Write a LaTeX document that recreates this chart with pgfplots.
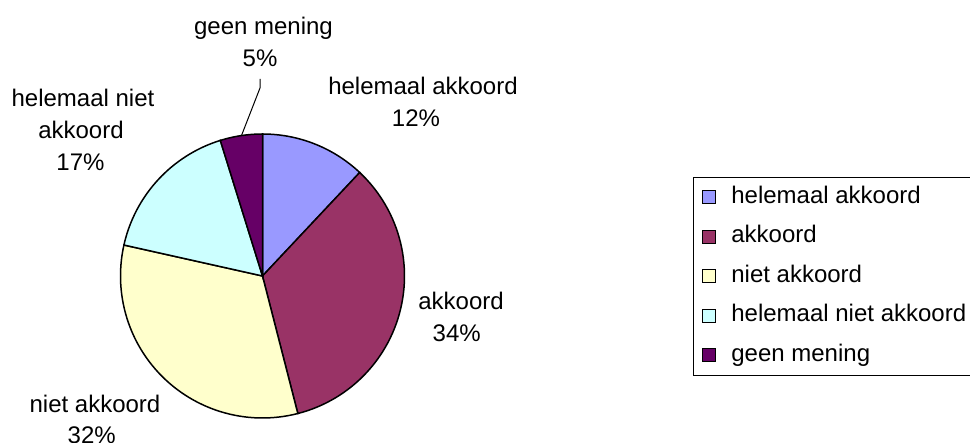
\documentclass[border=0pt]{standalone}
\usepackage{pgfplots}
\pgfplotsset{compat=1.18}
\usepackage{fontspec}
\setmainfont{Liberation Sans}
\definecolor{cA}{HTML}{9999FF}
\definecolor{cB}{HTML}{993366}
\definecolor{cC}{HTML}{FFFFCC}
\definecolor{cD}{HTML}{CCFFFF}
\definecolor{cE}{HTML}{660066}
% shares in percent
\def\pA{12.0}\def\pB{34.0}\def\pC{32.5}\def\pD{16.7}\def\pE{4.8}
\pgfmathsetmacro\aA{3.6*\pA}
\pgfmathsetmacro\aB{3.6*(\pA+\pB)}
\pgfmathsetmacro\aC{3.6*(\pA+\pB+\pC)}
\pgfmathsetmacro\aD{3.6*(\pA+\pB+\pC+\pD)}
\pgfmathsetmacro\aE{3.6*(\pA+\pB+\pC+\pD+\pE)}
\def\cx{262.5}\def\cy{-276}\def\rr{142}
\begin{document}
\begin{tikzpicture}
\useasboundingbox (0,0) rectangle (485pt,221.5pt);
\clip (0,0) rectangle (485pt,221.5pt);
\begin{axis}[at={(0,0)}, anchor=south west, scale only axis,
  width=485pt, height=221.5pt,
  xmin=0, xmax=970, ymin=-443, ymax=0,
  hide axis, clip=false,
  legend image code/.code={\draw[#1, line width=0.5pt] (0pt,-3.25pt) rectangle (6.5pt,3.25pt); \path[draw=none, fill=none] (0pt,0pt) -- (14.35pt,0pt);},
  legend cell align=left,
  legend style={at={(axis description cs:0.7141,0.6011)}, anchor=north west,
    draw=black, line width=0.5pt, inner xsep=4.5pt, inner ysep=4pt,
    row sep=7.75pt, column sep=0pt,
    font=\fontsize{12}{14}\selectfont,
    nodes={inner sep=0pt, text height=9pt, text depth=3pt, anchor=west}},
]
\addplot[fill=cA, draw=black, line width=0.75pt, domain=0:\aA, samples=40, variable=\t]
  ({\cx+\rr*sin(\t)},{\cy+\rr*cos(\t)}) -- (\cx,\cy) -- cycle;
\addlegendentry{helemaal akkoord}
\addplot[fill=cB, draw=black, line width=0.75pt, domain=\aA:\aB, samples=60, variable=\t]
  ({\cx+\rr*sin(\t)},{\cy+\rr*cos(\t)}) -- (\cx,\cy) -- cycle;
\addlegendentry{akkoord}
\addplot[fill=cC, draw=black, line width=0.75pt, domain=\aB:\aC, samples=60, variable=\t]
  ({\cx+\rr*sin(\t)},{\cy+\rr*cos(\t)}) -- (\cx,\cy) -- cycle;
\addlegendentry{niet akkoord}
\addplot[fill=cD, draw=black, line width=0.75pt, domain=\aC:\aD, samples=40, variable=\t]
  ({\cx+\rr*sin(\t)},{\cy+\rr*cos(\t)}) -- (\cx,\cy) -- cycle;
\addlegendentry{helemaal niet akkoord}
\addplot[fill=cE, draw=black, line width=0.75pt, domain=\aD:\aE, samples=20, variable=\t]
  ({\cx+\rr*sin(\t)},{\cy+\rr*cos(\t)}) -- (\cx,\cy) -- cycle;
\addlegendentry{geen mening}
% data labels
\begin{scope}[every node/.style={font=\fontsize{12}{14}\selectfont, anchor=base, inner sep=0pt}]
\node at (263.5,-35) {geen mening};
\node at (260,-66.7) {5\%};
\node at (423,-95) {helemaal akkoord};
\node at (416,-127) {12\%};
\node at (461,-310) {akkoord};
\node at (456.7,-341.7) {34\%};
\node at (95,-412.3) {niet akkoord};
\node at (91.7,-444) {32\%};
\node at (83,-106.5) {helemaal niet};
\node at (81,-138.3) {akkoord};
\node at (80.5,-170.7) {17\%};
\end{scope}
\draw[black, line width=0.5pt] (260,-79) -- (260,-88) -- (241.7,-135);
\end{axis}
\end{tikzpicture}
\end{document}
